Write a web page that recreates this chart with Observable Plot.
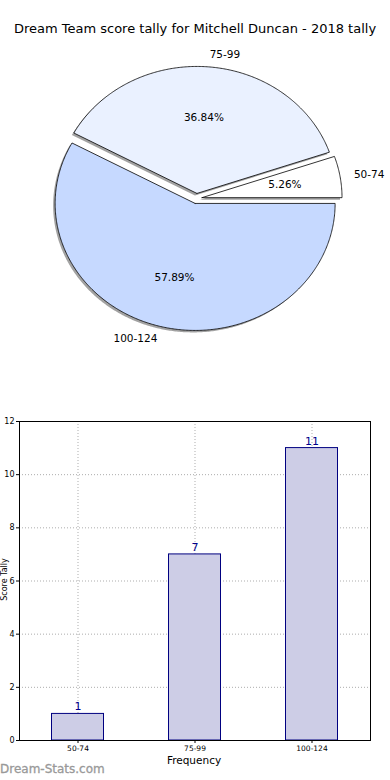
<!DOCTYPE html>
<html><head><meta charset="utf-8">
<script src="https://cdn.jsdelivr.net/npm/d3@7"></script>
<script src="https://cdn.jsdelivr.net/npm/@observablehq/plot@0.6"></script>
<style>
body{margin:0;width:390px;height:780px;position:relative;overflow:hidden;background:#fff;font-family:"DejaVu Sans",sans-serif;}
#title{position:absolute;top:21px;left:0;width:390px;text-align:center;font-size:13px;color:#000;}
#pie{position:absolute;top:0;left:0;}
#bar{position:absolute;top:400px;left:0;}
#wm{position:absolute;left:0;top:762px;font-size:12px;font-weight:normal;color:#999;-webkit-text-stroke:0.3px #999;}
#xl{position:absolute;left:0;width:388px;top:754px;text-align:center;font-size:10.5px;color:#000;}
#yl{position:absolute;left:-36px;top:575px;width:80px;text-align:center;font-size:8px;color:#000;transform:rotate(-90deg);}
svg{overflow:visible;}
</style></head><body>
<div id="pie"></div>
<div id="title">Dream Team score tally for Mitchell Duncan - 2018 tally</div>
<div id="bar"></div>
<div id="xl"></div>
<div id="yl"></div>
<div id="wm">Dream-Stats.com</div>
<script>
const categories = ["50-74", "75-99", "100-124"];
const counts = [1, 7, 11];
const sliceColors = ["#ffffff", "#eaf1ff", "#c6d9ff"];
const yTicks = [0, 2, 4, 6, 8, 10, 12];
const yLabel = "Score Tally";
const xLabel = "Frequency";

// ---- pie geometry from data (matplotlib style: start at 0°, counter-clockwise)
const total = d3.sum(counts);
const explode = 0.04;
let cum = 0;
const slices = categories.map((c, i) => {
  const a0 = cum / total * 2 * Math.PI;
  cum += counts[i];
  const a1 = cum / total * 2 * Math.PI;
  const mid = (a0 + a1) / 2;
  const ox = explode * Math.cos(mid), oy = explode * Math.sin(mid);
  const pts = [{x: ox, y: oy}];
  const n = Math.max(4, Math.ceil((a1 - a0) / 0.01));
  for (let k = 0; k <= n; k++) {
    const a = a0 + (a1 - a0) * k / n;
    pts.push({x: ox + Math.cos(a), y: oy + Math.sin(a)});
  }
  pts.push({x: ox, y: oy});
  return {
    cat: c, color: sliceColors[i], pts, mid,
    lx: ox + 1.1 * Math.cos(mid), ly: oy + 1.1 * Math.sin(mid),
    px: ox + 0.6 * Math.cos(mid), py: oy + 0.6 * Math.sin(mid),
    pct: (counts[i] / total * 100).toFixed(2) + "%"
  };
});

const pieMarks = [];
slices.forEach(s => {
  pieMarks.push(Plot.line(s.pts, {x: "x", y: "y", fill: "#555", fillOpacity: 0.55, stroke: "none", dx: -2, dy: 2}));
  pieMarks.push(Plot.line(s.pts, {x: "x", y: "y", fill: s.color, stroke: "#000", strokeWidth: 0.8}));
});
pieMarks.push(Plot.text(slices.filter(s => Math.cos(s.mid) >= 0), {x: "lx", y: "ly", text: "cat", textAnchor: "start", fontSize: 10.5, fill: "#000"}));
pieMarks.push(Plot.text(slices.filter(s => Math.cos(s.mid) < 0), {x: "lx", y: "ly", text: "cat", textAnchor: "end", fontSize: 10.5, fill: "#000"}));
pieMarks.push(Plot.text(slices, {x: "px", y: "py", text: "pct", fontSize: 10.5, fill: "#000"}));

const pie = Plot.plot({
  width: 390, height: 400,
  marginLeft: 56, marginRight: 54, marginTop: 71, marginBottom: 75,
  x: {domain: [-1, 1], axis: null},
  y: {domain: [-1, 1], axis: null},
  style: {fontFamily: "DejaVu Sans, sans-serif", background: "transparent", overflow: "visible"},
  marks: pieMarks
});
document.getElementById("pie").appendChild(pie);

// ---- bar chart
const barData = categories.map((c, i) => ({cat: c, n: counts[i]}));
const bar = Plot.plot({
  width: 390, height: 380,
  marginLeft: 19, marginRight: 20, marginTop: 21, marginBottom: 40,
  x: {domain: categories, padding: 0, label: null},
  y: {domain: [0, 12], label: null},
  style: {fontFamily: "DejaVu Sans, sans-serif", background: "transparent", overflow: "visible"},
  marks: [
    Plot.gridY(yTicks, {stroke: "#999", strokeOpacity: 0.8, strokeDasharray: "1,2"}),
    Plot.gridX(categories, {stroke: "#999", strokeOpacity: 0.8, strokeDasharray: "1,2"}),
    Plot.barY(barData, {x: "cat", y: "n", fill: "#cdcde6", stroke: "#000080", strokeWidth: 1, insetLeft: 32.5, insetRight: 32.5}),
    Plot.text(barData, {x: "cat", y: "n", text: d => String(d.n), dy: -7, fill: "#00008b", fontSize: 11}),
    Plot.frame({stroke: "#000"}),
    Plot.axisY(yTicks, {tickSize: 3, fontSize: 8, tickPadding: 2, label: null, fill: "#000"}),
    Plot.axisX(categories, {tickSize: 3, fontSize: 7.5, tickPadding: 2, label: null, fill: "#000"})
  ]
});
document.getElementById("bar").appendChild(bar);
document.getElementById("xl").textContent = xLabel;
document.getElementById("yl").textContent = yLabel;
</script>
</body></html>
